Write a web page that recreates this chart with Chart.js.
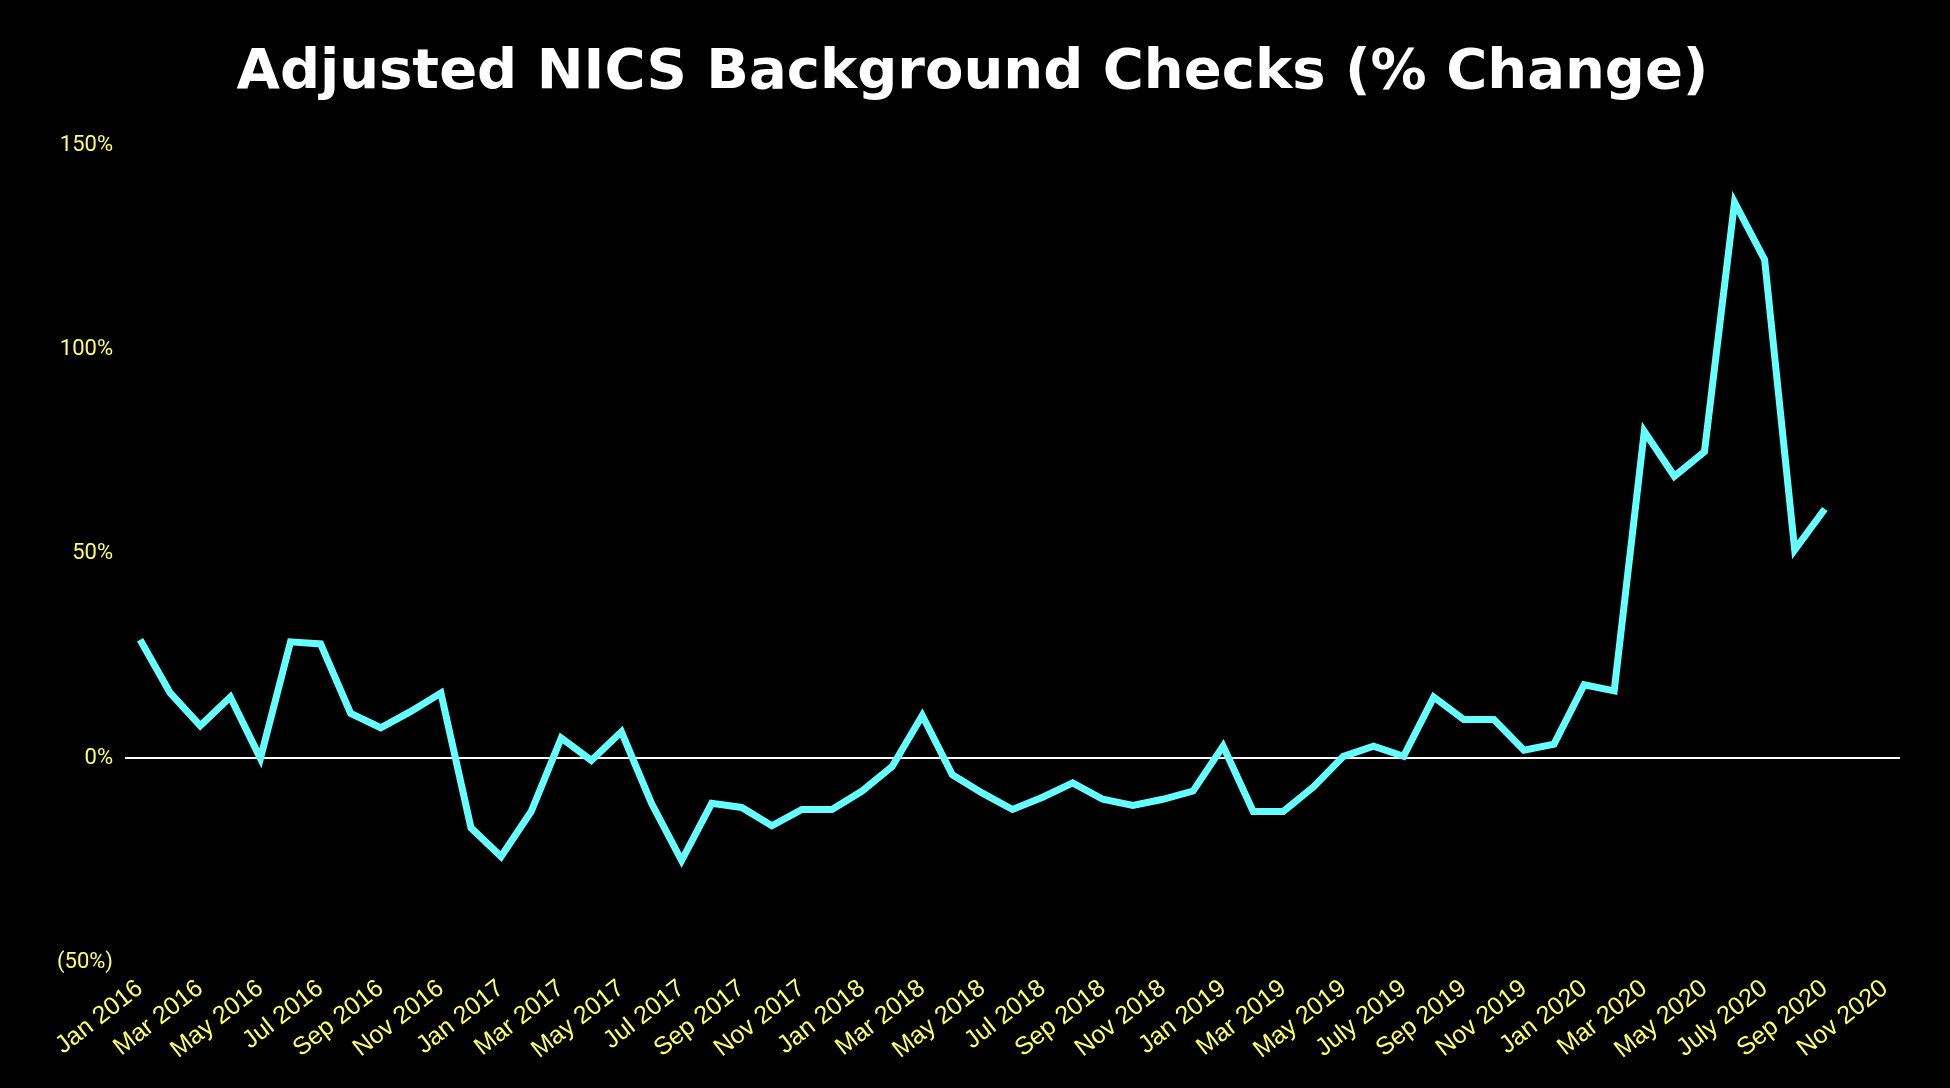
<!DOCTYPE html>
<html>
<head>
<meta charset="UTF-8">
<title>Adjusted NICS Background Checks</title>
<script src="https://cdn.jsdelivr.net/npm/chart.js"></script>
<style>
  body { margin: 0; background: #000; }
</style>
</head>
<body>
<canvas id="chart" width="1950" height="1088"></canvas>
<script>
// months Jan 2016 .. Nov 2020
const months = ["Jan","Feb","Mar","Apr","May","Jun","Jul","Aug","Sep","Oct","Nov","Dec"];
const labels = [];
for (let y = 2016; y <= 2020; y++) {
    for (let m = 0; m < 12; m++) {
        if (y === 2020 && m > 10) break;
        let name = months[m];
        if (m === 6 && y >= 2019) name = "July";
        labels.push(name + " " + y);
    }
}

// % change, Jan 2016 .. Sep 2020
const pctChange = [
    29, 16, 8, 15, 0, 28.5, 28, 11, 7.5, 11.5, 16, -17,
    -24, -13, 5, -0.5, 6.5, -11, -25, -11, -12, -16.5, -12.5, -12.5,
    -8, -2, 10.5, -4, -8.5, -12.5, -9.5, -6, -10, -11.5, -10, -8,
    3, -13, -13, -7, 0.5, 3, 0.5, 15, 9.5, 9.5, 2, 3.5,
    18, 16.5, 80, 69, 75, 136, 122, 51, 61
];

const yTicks = [150, 100, 50, 0, -50];

new Chart(document.getElementById("chart"), {
    type: "line",
    data: {
        labels: labels,
        datasets: [{
            data: pctChange,
            borderColor: "#66ffff",
            borderWidth: 7,
            pointRadius: 0,
            tension: 0,
            fill: false
        }]
    },
    options: {
        responsive: false,
        animation: false,
        layout: { padding: { left: 45, right: 50, top: 10, bottom: 20 } },
        plugins: {
            legend: { display: false },
            tooltip: { enabled: false },
            title: {
                display: true,
                text: "Adjusted NICS Background Checks (% Change)",
                color: "#ffffff",
                font: { family: "DejaVu Sans", weight: "bold", size: 56 },
                padding: { top: 30, bottom: 38 }
            }
        },
        scales: {
            x: {
                offset: true,
                grid: { display: false },
                border: { display: false },
                ticks: {
                    color: "#ffff66",
                    autoSkip: false,
                    maxRotation: 38,
                    minRotation: 38,
                    font: { family: "Liberation Sans", size: 25 },
                    callback: function (v, i) { return i % 2 === 0 ? labels[i] : ""; }
                }
            },
            y: {
                min: -50,
                max: 150,
                afterBuildTicks: function (axis) { axis.ticks = yTicks.map(v => ({ value: v })); },
                grid: {
                    color: ctx => ctx.tick && ctx.tick.value === 0 ? "#ffffff" : "transparent",
                    lineWidth: 2,
                    drawTicks: false
                },
                border: { display: false },
                ticks: {
                    color: "#ffff66",
                    padding: 12,
                    font: { family: "Roboto", size: 22 },
                    callback: v => v < 0 ? "(" + Math.abs(v) + "%)" : v + "%"
                }
            }
        }
    }
});
</script>
</body>
</html>
